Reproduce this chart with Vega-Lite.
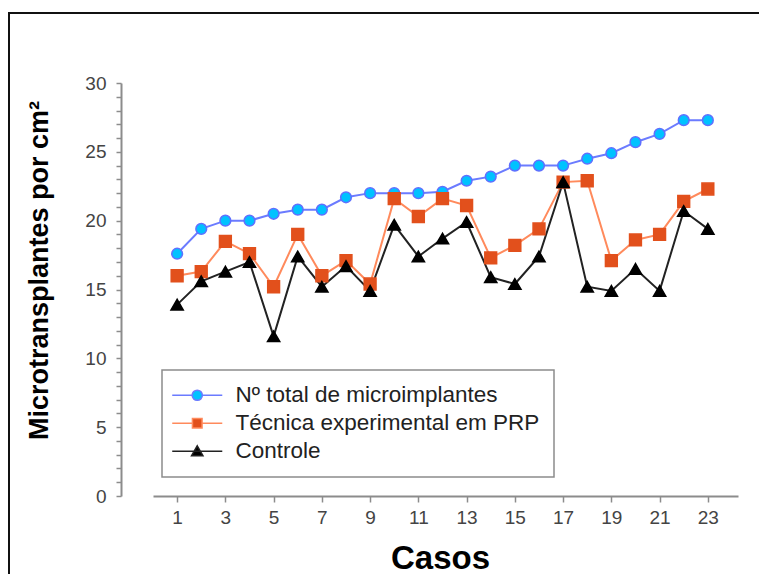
{
  "$schema": "https://vega.github.io/schema/vega-lite/v6.json",
  "width": 761,
  "height": 571,
  "autosize": {"type": "none"},
  "padding": {"left": 9, "top": 13, "right": -11, "bottom": -10},
  "background": "white",
  "config": {
    "view": {"stroke": "#111111", "strokeWidth": 2},
    "axis": {
      "grid": false,
      "domainColor": "#8c8c8c",
      "domainWidth": 2,
      "tickColor": "#8c8c8c",
      "tickWidth": 1.5,
      "tickSize": 5,
      "labelFont": "Liberation Sans",
      "labelFontSize": 19,
      "labelColor": "#444444",
      "titleFont": "Liberation Sans",
      "titleFontSize": 27,
      "titleFontWeight": "bold",
      "titleColor": "#000000"
    },
    "legend": {"strokeWidth": 1.5}
  },
  "data": {
    "values": [
      {"c": 1, "s": "Nº total de microimplantes", "v": 17.6},
      {"c": 2, "s": "Nº total de microimplantes", "v": 19.4},
      {"c": 3, "s": "Nº total de microimplantes", "v": 20.0},
      {"c": 4, "s": "Nº total de microimplantes", "v": 20.0},
      {"c": 5, "s": "Nº total de microimplantes", "v": 20.5},
      {"c": 6, "s": "Nº total de microimplantes", "v": 20.8},
      {"c": 7, "s": "Nº total de microimplantes", "v": 20.8},
      {"c": 8, "s": "Nº total de microimplantes", "v": 21.7},
      {"c": 9, "s": "Nº total de microimplantes", "v": 22.0},
      {"c": 10, "s": "Nº total de microimplantes", "v": 22.0},
      {"c": 11, "s": "Nº total de microimplantes", "v": 22.0},
      {"c": 12, "s": "Nº total de microimplantes", "v": 22.1},
      {"c": 13, "s": "Nº total de microimplantes", "v": 22.9},
      {"c": 14, "s": "Nº total de microimplantes", "v": 23.2},
      {"c": 15, "s": "Nº total de microimplantes", "v": 24.0},
      {"c": 16, "s": "Nº total de microimplantes", "v": 24.0},
      {"c": 17, "s": "Nº total de microimplantes", "v": 24.0},
      {"c": 18, "s": "Nº total de microimplantes", "v": 24.5},
      {"c": 19, "s": "Nº total de microimplantes", "v": 24.9},
      {"c": 20, "s": "Nº total de microimplantes", "v": 25.7},
      {"c": 21, "s": "Nº total de microimplantes", "v": 26.3},
      {"c": 22, "s": "Nº total de microimplantes", "v": 27.3},
      {"c": 23, "s": "Nº total de microimplantes", "v": 27.3},
      {"c": 1, "s": "Técnica experimental em PRP", "v": 16.0},
      {"c": 2, "s": "Técnica experimental em PRP", "v": 16.3},
      {"c": 3, "s": "Técnica experimental em PRP", "v": 18.5},
      {"c": 4, "s": "Técnica experimental em PRP", "v": 17.6},
      {"c": 5, "s": "Técnica experimental em PRP", "v": 15.2},
      {"c": 6, "s": "Técnica experimental em PRP", "v": 19.0},
      {"c": 7, "s": "Técnica experimental em PRP", "v": 16.0},
      {"c": 8, "s": "Técnica experimental em PRP", "v": 17.1},
      {"c": 9, "s": "Técnica experimental em PRP", "v": 15.4},
      {"c": 10, "s": "Técnica experimental em PRP", "v": 21.6},
      {"c": 11, "s": "Técnica experimental em PRP", "v": 20.3},
      {"c": 12, "s": "Técnica experimental em PRP", "v": 21.6},
      {"c": 13, "s": "Técnica experimental em PRP", "v": 21.1},
      {"c": 14, "s": "Técnica experimental em PRP", "v": 17.3},
      {"c": 15, "s": "Técnica experimental em PRP", "v": 18.2},
      {"c": 16, "s": "Técnica experimental em PRP", "v": 19.4},
      {"c": 17, "s": "Técnica experimental em PRP", "v": 22.8},
      {"c": 18, "s": "Técnica experimental em PRP", "v": 22.9},
      {"c": 19, "s": "Técnica experimental em PRP", "v": 17.1},
      {"c": 20, "s": "Técnica experimental em PRP", "v": 18.6},
      {"c": 21, "s": "Técnica experimental em PRP", "v": 19.0},
      {"c": 22, "s": "Técnica experimental em PRP", "v": 21.4},
      {"c": 23, "s": "Técnica experimental em PRP", "v": 22.3},
      {"c": 1, "s": "Controle", "v": 13.9},
      {"c": 2, "s": "Controle", "v": 15.6},
      {"c": 3, "s": "Controle", "v": 16.3},
      {"c": 4, "s": "Controle", "v": 17.0},
      {"c": 5, "s": "Controle", "v": 11.6},
      {"c": 6, "s": "Controle", "v": 17.4},
      {"c": 7, "s": "Controle", "v": 15.2},
      {"c": 8, "s": "Controle", "v": 16.7},
      {"c": 9, "s": "Controle", "v": 14.9},
      {"c": 10, "s": "Controle", "v": 19.7},
      {"c": 11, "s": "Controle", "v": 17.4},
      {"c": 12, "s": "Controle", "v": 18.7},
      {"c": 13, "s": "Controle", "v": 19.9},
      {"c": 14, "s": "Controle", "v": 15.9},
      {"c": 15, "s": "Controle", "v": 15.4},
      {"c": 16, "s": "Controle", "v": 17.4},
      {"c": 17, "s": "Controle", "v": 22.8},
      {"c": 18, "s": "Controle", "v": 15.2},
      {"c": 19, "s": "Controle", "v": 14.9},
      {"c": 20, "s": "Controle", "v": 16.5},
      {"c": 21, "s": "Controle", "v": 14.9},
      {"c": 22, "s": "Controle", "v": 20.7},
      {"c": 23, "s": "Controle", "v": 19.4}
    ]
  },
  "layer": [
    {
      "mark": {"type": "line", "strokeWidth": 2},
      "encoding": {
        "x": {
          "field": "c",
          "type": "quantitative",
          "scale": {"domain": [0, 24.25], "range": [144, 729], "nice": false, "zero": false},
          "axis": {
            "values": [1, 3, 5, 7, 9, 11, 13, 15, 17, 19, 21, 23],
            "tickCount": 40,
            "format": "d",
            "title": "Casos",
            "titleFontSize": 33,
            "titleX": 431,
            "offset": -88,
            "tickSize": 6,
            "labelPadding": 6,
            "titlePadding": 15
          }
        },
        "y": {
          "field": "v",
          "type": "quantitative",
          "scale": {"domain": [0, 30], "range": [483, 70], "nice": false, "zero": false},
          "axis": {
            "values": [0, 1, 2, 3, 4, 5, 6, 7, 8, 9, 10, 11, 12, 13, 14, 15, 16, 17, 18, 19, 20, 21, 22, 23, 24, 25, 26, 27, 28, 29, 30],
            "tickCount": 40,
            "format": "d",
            "labelExpr": "datum.value % 5 === 0 ? datum.label : ''",
            "title": "Microtransplantes por cm²",
            "offset": -112,
            "labelPadding": 10,
            "titlePadding": 31,
            "titleY": 257
          }
        },
        "detail": {"field": "s", "type": "nominal"},
        "stroke": {
          "condition": [
            {"test": "datum.s === 'Controle'", "value": "#222222"},
            {"test": "datum.s === 'Técnica experimental em PRP'", "value": "#ff8a5c"}
          ],
          "value": "#6b7bff"
        }
      }
    },
    {
      "mark": {"type": "point", "filled": true, "opacity": 1},
      "encoding": {
        "x": {"field": "c", "type": "quantitative"},
        "y": {"field": "v", "type": "quantitative"},
        "strokeWidth": {
          "field": "s",
          "type": "nominal",
          "scale": {
            "domain": ["Nº total de microimplantes", "Técnica experimental em PRP", "Controle"],
            "range": [1.5, 1.5, 1.5]
          },
          "legend": {
            "title": null,
            "orient": "none",
            "legendX": 153,
            "legendY": 357,
            "padding": 14,
            "strokeColor": "#8c8c8c",
            "fillColor": "white",
            "symbolSize": 144,
            "symbolOffset": 10,
            "labelOffset": 27,
            "labelFont": "Liberation Sans",
            "labelFontSize": 22.5,
            "labelColor": "#222222",
            "labelLimit": 600,
            "rowPadding": 5,
            "encoding": {
              "symbols": {
                "shape": {
                  "condition": [
                    {"test": "datum.value === 'Controle'", "value": "M-4.17,0H4.17M0,-0.9L0.95,0.75L-0.95,0.75Z"},
                    {"test": "datum.value === 'Técnica experimental em PRP'", "value": "M-4.17,0H-0.8M0.8,0H4.17M-0.8,-0.8H0.8V0.8H-0.8Z"}
                  ],
                  "value": "M-4.17,0H-0.85M0.85,0H4.17M-0.85,0A0.85,0.85,0,1,1,0.85,0A0.85,0.85,0,1,1,-0.85,0Z"
                },
                "fill": {
                  "condition": [
                    {"test": "datum.value === 'Controle'", "value": "#000000"},
                    {"test": "datum.value === 'Técnica experimental em PRP'", "value": "#e2501c"}
                  ],
                  "value": "#00c2ff"
                },
                "stroke": {
                  "condition": [
                    {"test": "datum.value === 'Controle'", "value": "#222222"},
                    {"test": "datum.value === 'Técnica experimental em PRP'", "value": "#ff8a5c"}
                  ],
                  "value": "#6b7bff"
                }
              }
            }
          }
        },
        "shape": {
          "condition": [
            {"test": "datum.s === 'Controle'", "value": "triangle-up"},
            {"test": "datum.s === 'Técnica experimental em PRP'", "value": "square"}
          ],
          "value": "circle"
        },
        "size": {
          "condition": [
            {"test": "datum.s === 'Controle'", "value": 150},
            {"test": "datum.s === 'Técnica experimental em PRP'", "value": 140}
          ],
          "value": 115
        },
        "fill": {
          "condition": [
            {"test": "datum.s === 'Controle'", "value": "#000000"},
            {"test": "datum.s === 'Técnica experimental em PRP'", "value": "#e2501c"}
          ],
          "value": "#00c2ff"
        },
        "stroke": {
          "condition": [
            {"test": "datum.s === 'Controle'", "value": "#000000"},
            {"test": "datum.s === 'Técnica experimental em PRP'", "value": "#e2501c"}
          ],
          "value": "#5f70ff"
        }
      }
    }
  ]
}
